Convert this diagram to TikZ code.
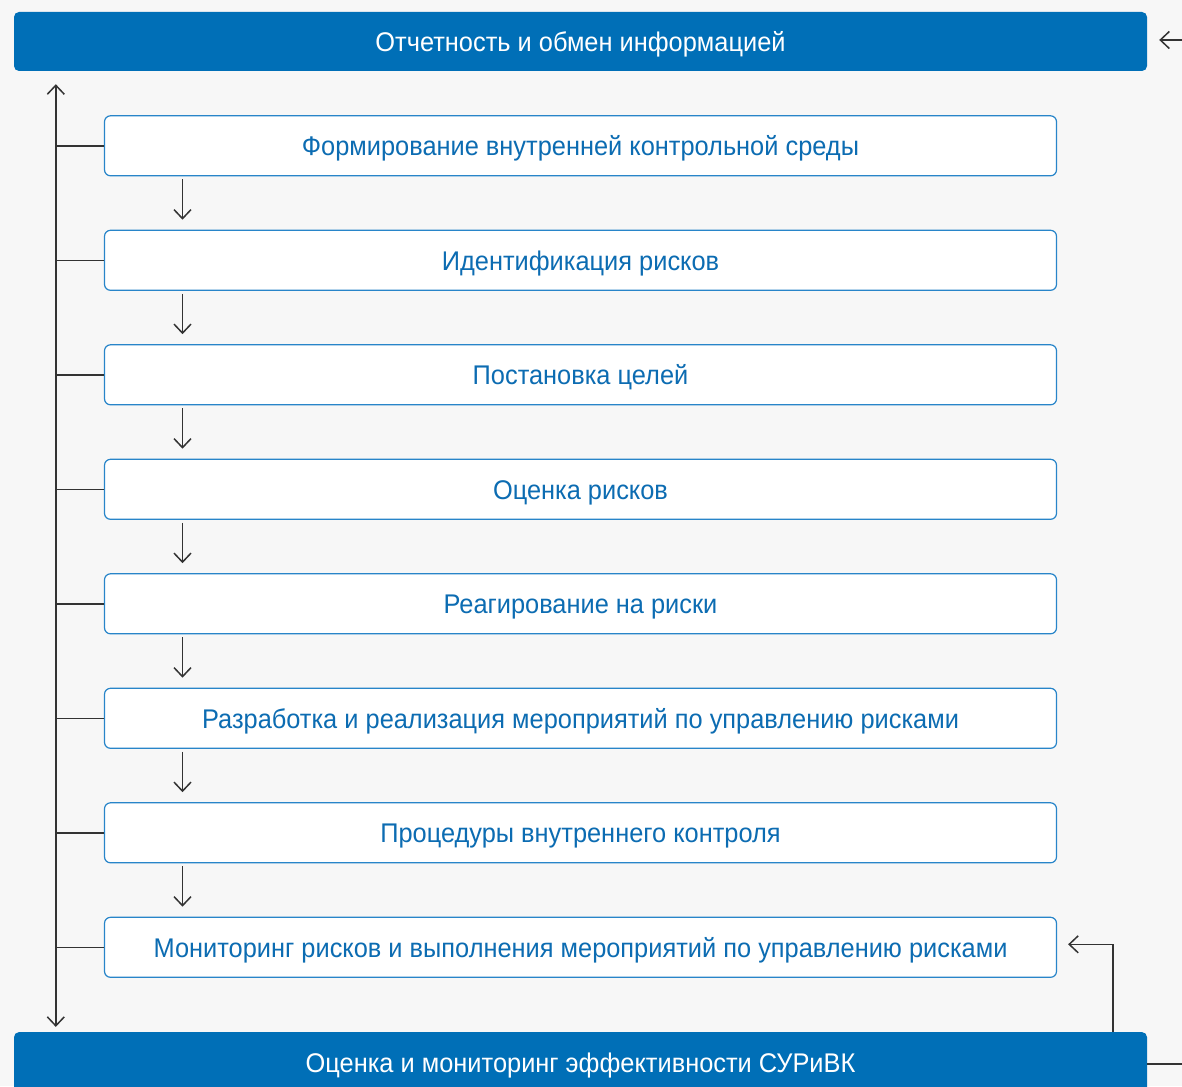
\documentclass[tikz,border=0pt]{standalone}
\usepackage{fontspec}
\setmainfont{Liberation Sans}[FakeStretch=0.94]
\usetikzlibrary{arrows.meta,positioning,calc}
\definecolor{barblue}{RGB}{0,111,183}
\definecolor{edgeblue}{RGB}{40,133,201}
\definecolor{textblue}{RGB}{12,108,178}
\definecolor{pagegray}{RGB}{247,247,247}
\definecolor{linegray}{RGB}{51,51,51}

\begin{document}
\begin{tikzpicture}[
  x=1pt,y=1pt,
  font=\fontsize{27}{32}\selectfont,
  node distance=53.3pt,
  bar/.style={fill=barblue,draw=none,rounded corners=5pt,text=white,minimum width=1133pt,minimum height=59pt,inner sep=0pt,text height=19.4pt,text depth=0pt},
  box/.style={draw=edgeblue,line width=1.2pt,fill=white,rounded corners=6pt,text=textblue,minimum width=952pt,minimum height=60pt,inner sep=0pt,text height=19.4pt,text depth=0pt},
  link/.style={draw=linegray,line width=1.5pt},
  arr/.style={link,-{Straight Barb[length=9pt,width=17pt]}},
  both/.style={link,{Straight Barb[length=9pt,width=17pt]}-{Straight Barb[length=9pt,width=17pt]}}
]
  \clip (0,0) rectangle (1182,-1086);
  \fill[pagegray] (0,0) rectangle (1182,-1086);

  \node[bar] (report) at (580.5,-41.5) {Отчетность и обмен информацией};
  \node[box,below=44pt of report] (env) {Формирование внутренней контрольной среды};
  \node[box,below=of env] (ident) {Идентификация рисков};
  \node[box,below=of ident] (goals) {Постановка целей};
  \node[box,below=of goals] (eval) {Оценка рисков};
  \node[box,below=of eval] (resp) {Реагирование на риски};
  \node[box,below=of resp] (measures) {Разработка и реализация мероприятий по управлению рисками};
  \node[box,below=of measures] (proc) {Процедуры внутреннего контроля};
  \node[box,below=of proc] (monit) {Мониторинг рисков и выполнения мероприятий по управлению рисками};
  \node[bar,below=54pt of monit,minimum height=62pt] (assess) {Оценка и мониторинг эффективности СУРиВК};

  \foreach \a/\b in {env/ident,ident/goals,goals/eval,eval/resp,resp/measures,measures/proc,proc/monit}
    \draw[arr] ([xshift=-398pt,yshift=-3pt]\a.south) -- ([xshift=-398pt,yshift=10pt]\b.north);

  % spine on the left
  \coordinate (spinetop) at ($(report.south west)+(42,-13)$);
  \coordinate (spinebot) at ($(assess.north west)+(42,5)$);
  \draw[both] (spinetop) -- (spinebot);
  \foreach \n in {env,ident,goals,eval,resp,measures,proc,monit}
    \draw[link] (\n.west) -- (\n.west -| spinetop);

  % feedback on the right
  \draw[arr] ($(assess.north east)+(-34,0)$) |- ([xshift=11pt,yshift=3pt]monit.east);
  \coordinate (outR) at (1182,-1064);
  \draw[link] (assess.east |- outR) -- (outR);
  \coordinate (inR) at (1182,-40);
  \draw[arr] (inR) -- ([xshift=12pt]report.east |- inR);
\end{tikzpicture}
\end{document}
